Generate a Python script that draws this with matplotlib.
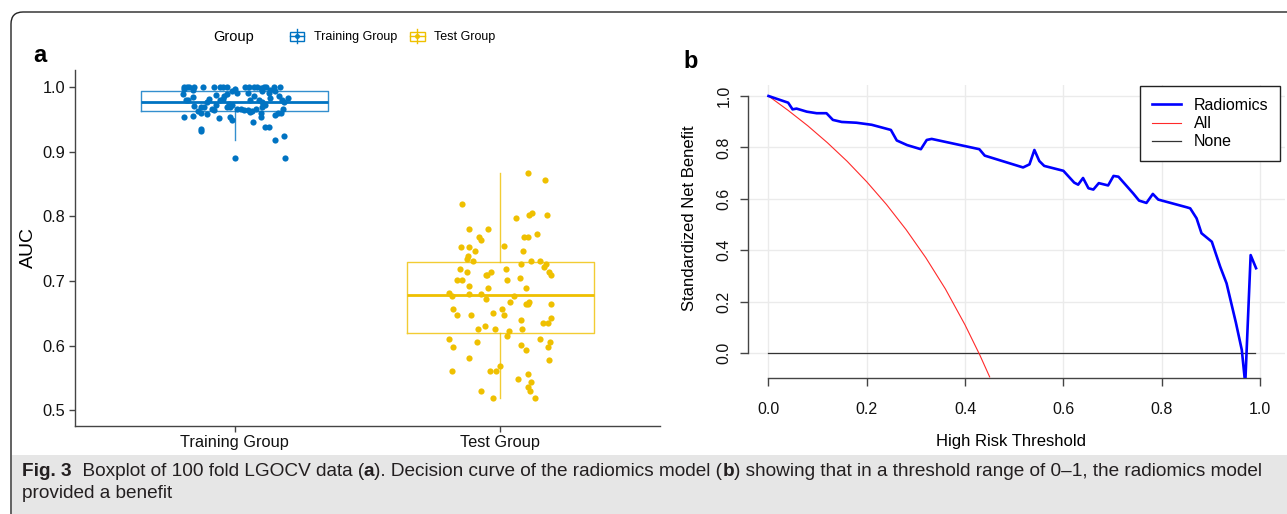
import matplotlib
matplotlib.use("Agg")
import matplotlib.pyplot as plt
from matplotlib.patches import Rectangle, FancyBboxPatch
from matplotlib.lines import Line2D
from matplotlib.legend_handler import HandlerBase

plt.rcParams["font.family"] = ["Liberation Sans", "DejaVu Sans"]

# ---- panel a: 100 fold LGOCV AUC values (jitter offset, AUC) ----
groups = ["Training Group", "Test Group"]
group_colors = ["#0073C2", "#EFC000"]

train_jitter = [-0.190, -0.180, -0.170, -0.153, -0.120, -0.078, -0.053, -0.043, -0.028, 0.038,
                0.055, 0.073, 0.085, 0.098, 0.110, 0.118, 0.148, 0.170, -0.190, -0.155,
                -0.009, 0.000, 0.103, 0.135, 0.154, -0.193, -0.158, -0.184, -0.096, -0.068,
                -0.040, -0.030, 0.008, 0.050, 0.075, 0.129, 0.167, -0.175, -0.103, -0.055,
                -0.045, -0.021, -0.011, 0.058, 0.091, 0.105, 0.135, 0.179, 0.201, 0.185,
                -0.153, -0.128, -0.115, -0.084, -0.068, -0.028, -0.018, 0.010, 0.025, 0.035,
                0.050, 0.066, 0.079, 0.103, 0.115, 0.183, 0.173, -0.138, -0.128, -0.103,
                -0.078, 0.060, 0.098, 0.163, -0.190, -0.158, -0.059, -0.018, -0.008, 0.068,
                0.100, 0.154, -0.128, -0.125, 0.113, 0.130, 0.153, 0.185, 0.000, 0.189]
train_auc = [1.000, 1.000, 1.000, 1.000, 1.000, 1.000, 1.000, 1.000, 1.000, 1.000,
             1.000, 1.000, 1.000, 0.999, 1.000, 1.000, 1.000, 1.000, 0.997, 0.996,
             0.995, 0.997, 0.995, 0.996, 0.995, 0.990, 0.986, 0.981, 0.982, 0.988,
             0.987, 0.990, 0.992, 0.991, 0.987, 0.991, 0.987, 0.980, 0.977, 0.980,
             0.982, 0.975, 0.973, 0.980, 0.981, 0.977, 0.984, 0.981, 0.983, 0.978,
             0.971, 0.969, 0.969, 0.966, 0.973, 0.970, 0.969, 0.966, 0.966, 0.965,
             0.965, 0.964, 0.966, 0.969, 0.973, 0.966, 0.961, 0.964, 0.961, 0.959,
             0.965, 0.962, 0.961, 0.960, 0.955, 0.956, 0.953, 0.955, 0.949, 0.947,
             0.955, 0.957, 0.935, 0.933, 0.938, 0.938, 0.919, 0.925, 0.891, 0.891]

test_jitter = [0.104, 0.167, -0.145, 0.059, 0.107, 0.117, 0.175, -0.119, -0.045, -0.079,
               -0.074, 0.088, 0.104, 0.137, 0.014, -0.148, -0.118, -0.096, 0.085, -0.123,
               -0.127, -0.105, 0.113, 0.150, 0.079, 0.172, 0.164, -0.154, -0.127, -0.036,
               -0.055, -0.049, 0.020, 0.184, 0.190, -0.165, -0.143, 0.025, 0.075, -0.119,
               -0.048, 0.095, -0.194, -0.184, -0.120, -0.073, -0.053, 0.050, 0.036, 0.095,
               0.102, 0.109, 0.190, -0.180, 0.005, -0.028, -0.162, -0.109, 0.013, 0.190,
               0.078, 0.159, 0.178, -0.059, -0.083, -0.020, 0.080, 0.034, 0.024, -0.195,
               0.148, 0.188, -0.088, -0.178, 0.076, 0.095, 0.178, -0.117, 0.184, -0.182,
               -0.038, -0.015, -0.003, 0.103, 0.066, 0.113, 0.105, 0.110, -0.075, -0.029,
               0.129]
test_auc = [0.868, 0.856, 0.819, 0.798, 0.802, 0.806, 0.802, 0.781, 0.781, 0.768,
            0.764, 0.768, 0.768, 0.773, 0.755, 0.752, 0.752, 0.747, 0.747, 0.738,
            0.734, 0.731, 0.731, 0.731, 0.726, 0.726, 0.722, 0.718, 0.714, 0.714,
            0.709, 0.710, 0.718, 0.714, 0.710, 0.702, 0.702, 0.702, 0.705, 0.693,
            0.689, 0.689, 0.681, 0.676, 0.680, 0.680, 0.672, 0.676, 0.667, 0.664,
            0.665, 0.667, 0.664, 0.656, 0.656, 0.651, 0.647, 0.647, 0.647, 0.643,
            0.639, 0.635, 0.635, 0.630, 0.626, 0.626, 0.626, 0.622, 0.614, 0.610,
            0.610, 0.605, 0.605, 0.597, 0.601, 0.593, 0.597, 0.581, 0.577, 0.560,
            0.560, 0.560, 0.568, 0.556, 0.548, 0.543, 0.535, 0.530, 0.530, 0.519,
            0.519]

# box statistics: whislo, q1, median, q3, whishi
box_stats = [
    [0.918, 0.964, 0.977, 0.994, 1.000],
    [0.519, 0.620, 0.678, 0.730, 0.868],
]

# ---- panel b: decision curve ----
thr_model = [0.000, 0.040, 0.049, 0.057, 0.078, 0.098, 0.118, 0.131, 0.149, 0.179,
             0.210, 0.249, 0.261, 0.282, 0.310, 0.322, 0.332, 0.400, 0.429, 0.440,
             0.518, 0.531, 0.541, 0.551, 0.561, 0.600, 0.622, 0.630, 0.640, 0.651,
             0.661, 0.672, 0.691, 0.702, 0.712, 0.742, 0.754, 0.769, 0.782, 0.793,
             0.851, 0.858, 0.871, 0.881, 0.902, 0.919, 0.932, 0.951, 0.963, 0.970,
             0.981, 0.992]
snb_model = [1.000, 0.974, 0.948, 0.951, 0.939, 0.933, 0.933, 0.907, 0.899, 0.896,
             0.888, 0.868, 0.827, 0.809, 0.793, 0.829, 0.833, 0.805, 0.793, 0.768,
             0.722, 0.734, 0.790, 0.747, 0.728, 0.709, 0.663, 0.655, 0.681, 0.641,
             0.636, 0.661, 0.652, 0.689, 0.686, 0.621, 0.593, 0.584, 0.619, 0.597,
             0.567, 0.563, 0.524, 0.466, 0.433, 0.336, 0.271, 0.118, 0.012, -0.120,
             0.381, 0.330]

thr_all = [0.00, 0.04, 0.08, 0.12, 0.16, 0.20, 0.24, 0.28, 0.32, 0.36, 0.40, 0.43, 0.45]
snb_all = [1.000, 0.944, 0.884, 0.818, 0.746, 0.666, 0.578, 0.480, 0.371, 0.249, 0.109, -0.008, -0.093]

thr_none = [0.0, 0.99]
snb_none = [0.0, 0.0]

caption_runs_1 = [("Fig. 3", "bold"), ("  Boxplot of 100 fold LGOCV data (", "normal"), ("a", "bold"),
                  ("). Decision curve of the radiomics model (", "normal"), ("b", "bold"),
                  (") showing that in a threshold range of 0\u20131, the radiomics model", "normal")]
caption_line_2 = "provided a benefit"

W, H = 1287, 514
fig = plt.figure(figsize=(W / 100, H / 100), dpi=100)


def px_rect(left, top, right, bottom):
    return [left / W, 1 - bottom / H, (right - left) / W, (bottom - top) / H]


# frame and caption band
fig.patches.append(FancyBboxPatch((0.11, -0.5), 13.5, 5.52, boxstyle="round,pad=0,rounding_size=0.12",
                                  transform=fig.dpi_scale_trans, fill=False, ec="#222222", lw=1.0))
fig.patches.append(Rectangle((0.115, 0), 13.0, 0.59, transform=fig.dpi_scale_trans,
                             fc="#e6e6e6", ec="none"))


class BoxKey(HandlerBase):
    def create_artists(self, legend, orig_handle, xdescent, ydescent, width, height, fontsize, trans):
        c = orig_handle.get_color()
        x0, y0 = -xdescent, -ydescent
        cx, cy = x0 + width / 2, y0 + height / 2
        box = Rectangle((x0, y0 + 0.1 * height), width, 0.8 * height, fill=False, ec=c, lw=1.0,
                        transform=trans)
        wh = Line2D([cx, cx], [y0 - 0.15 * height, y0 + 1.15 * height], color=c, lw=1.0, transform=trans)
        med = Line2D([x0, x0 + width], [cy, cy], color=c, lw=1.0, transform=trans)
        dot = Line2D([cx], [cy], marker="o", ms=3.6, color=c, mec="none", transform=trans)
        return [box, wh, med, dot]


# ---------------- panel a ----------------
ax1 = fig.add_axes(px_rect(75, 70, 660, 425.7))
for i, (st, col) in enumerate(zip(box_stats, group_colors)):
    ax1.bxp([{"whislo": st[0], "q1": st[1], "med": st[2], "q3": st[3], "whishi": st[4], "fliers": []}],
            positions=[i], widths=0.7, showcaps=False, manage_ticks=False,
            boxprops=dict(color=col, lw=1.0, alpha=0.8),
            whiskerprops=dict(color=col, lw=1.0, alpha=0.8),
            medianprops=dict(color=col, lw=2.0))
ax1.scatter([0 + j for j in train_jitter], train_auc, s=20, color=group_colors[0], lw=0, zorder=3)
ax1.scatter([1 + j for j in test_jitter], test_auc, s=20, color=group_colors[1], lw=0, zorder=3)

ax1.set_xlim(-0.6, 1.6)
ax1.set_ylim(0.4757, 1.0271)
ax1.set_xticks([0, 1])
ax1.set_xticklabels(groups)
ax1.set_yticks([0.5, 0.6, 0.7, 0.8, 0.9, 1.0])
ax1.set_yticklabels(["0.5", "0.6", "0.7", "0.8", "0.9", "1.0"])
for s in ["top", "right"]:
    ax1.spines[s].set_visible(False)
for s in ["left", "bottom"]:
    ax1.spines[s].set_color("#444444")
    ax1.spines[s].set_linewidth(1.0)
ax1.tick_params(length=4, width=1, color="#444444", labelsize=11.8, labelcolor="#111111", pad=3)
ax1.set_ylabel("AUC", fontsize=14, labelpad=4)

fig.text(213 / W, 1 - 37 / H, "Group", fontsize=10.5, va="center", ha="left")
handles = [Line2D([], [], color=c) for c in group_colors]
fig.legend(handles, groups, handler_map={Line2D: BoxKey()}, ncol=2, frameon=False,
           loc="center left", bbox_to_anchor=(290 / W, 1 - 37 / H), borderaxespad=0, borderpad=0,
           fontsize=9, handlelength=1.15, handleheight=1.0, handletextpad=0.8, columnspacing=1.0)

fig.text(40 / W, 1 - 55 / H, "a", fontsize=17, weight="bold", ha="center", va="center")
fig.text(691 / W, 1 - 61 / H, "b", fontsize=17, weight="bold", ha="center", va="center")

# ---------------- panel b ----------------
ax2 = fig.add_axes(px_rect(748, 85, 1285, 378.3))
ax2.set_xlim(-0.0417, 1.0509)
ax2.set_ylim(-0.0984, 1.0428)
ticks = [0.0, 0.2, 0.4, 0.6, 0.8, 1.0]
for t in ticks:
    ax2.axvline(t, color="#ebebeb", lw=1.0, zorder=0)
    ax2.axhline(t, color="#ebebeb", lw=1.0, zorder=0)
ax2.plot(thr_none, snb_none, color="#333333", lw=0.9, label="None", zorder=2)
ax2.plot(thr_all, snb_all, color="#ff2a2a", lw=0.8, label="All", zorder=3)
ax2.plot(thr_model, snb_model, color="#0000ff", lw=1.9, label="Radiomics", zorder=4)

for s in ["top", "right"]:
    ax2.spines[s].set_visible(False)
for s in ["left", "bottom"]:
    ax2.spines[s].set_color("#444444")
    ax2.spines[s].set_linewidth(1.0)
    ax2.spines[s].set_bounds(0, 1)
ax2.set_xticks(ticks)
ax2.set_xticklabels([f"{t:.1f}" for t in ticks])
ax2.set_yticks(ticks)
ax2.set_yticklabels([f"{t:.1f}" for t in ticks], rotation=90, va="center")
ax2.tick_params(axis="x", length=6, width=1, color="#444444", labelsize=11.5, pad=11, labelcolor="#111111")
ax2.tick_params(axis="y", length=6, width=1, color="#444444", labelsize=11.5, pad=6, labelcolor="#111111")
ax2.set_xlabel("High Risk Threshold", fontsize=12)
ax2.xaxis.set_label_coords(0.49, -0.19)
ax2.set_ylabel("Standardized Net Benefit", fontsize=12)
ax2.yaxis.set_label_coords(-0.095, 0.5465)

hnd, lab = ax2.get_legend_handles_labels()
order = [2, 1, 0]
leg = ax2.legend([hnd[i] for i in order], [lab[i] for i in order], loc="upper right",
                 bbox_to_anchor=(0.9912, 0.9966), fontsize=11.5, fancybox=False, framealpha=1,
                 edgecolor="#222222", handlelength=1.8, handletextpad=0.8, labelspacing=0.2,
                 borderpad=0.75, borderaxespad=0)
leg.get_frame().set_linewidth(1.0)

# ---------------- caption ----------------
renderer = fig.canvas.get_renderer()
cap_size = 13.7
x = 22 / W
for txt, wt in caption_runs_1:
    t = fig.text(x, 1 - 471 / H, txt, fontsize=cap_size, weight=wt,
                 va="center", ha="left", color="#231f20")
    x += t.get_window_extent(renderer).width / W
fig.text(22 / W, 1 - 494 / H, caption_line_2, fontsize=cap_size,
         va="center", ha="left", color="#231f20")

fig.savefig("out.png", dpi=100)
